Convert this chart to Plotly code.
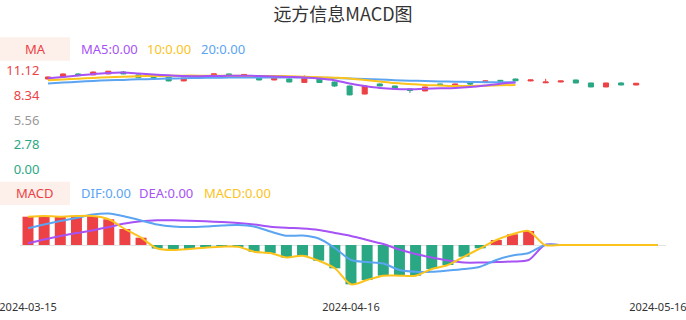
import plotly.graph_objects as go

W, H = 686, 320

dates = ["2024-03-15", "2024-03-18", "2024-03-19", "2024-03-20", "2024-03-21", "2024-03-22",
         "2024-03-25", "2024-03-26", "2024-03-27", "2024-03-28", "2024-03-29",
         "2024-04-01", "2024-04-02", "2024-04-03", "2024-04-08", "2024-04-09", "2024-04-10",
         "2024-04-11", "2024-04-12", "2024-04-15", "2024-04-16", "2024-04-17", "2024-04-18",
         "2024-04-19", "2024-04-22", "2024-04-23", "2024-04-24", "2024-04-25", "2024-04-26",
         "2024-04-29", "2024-04-30",
         "2024-05-06", "2024-05-07", "2024-05-08", "2024-05-09", "2024-05-10", "2024-05-13",
         "2024-05-14", "2024-05-15", "2024-05-16"]

open_ = [10.20, 10.43, 10.77, 10.66, 10.77, 10.99, 10.66, 10.60, 10.43, 9.98,
         10.40, 10.66, 10.77, 10.70, 10.43, 10.09, 10.20, 9.81, 10.20, 9.86,
         9.41, 8.50, 9.64, 9.41, 9.07, 8.85, 9.64, 9.41, 9.75, 9.86,
         10.05, 10.20, 9.98, 9.77, 9.86, 10.09, 9.75, 9.30, 9.75, 9.52]
close = [10.43, 10.77, 10.58, 10.99, 11.08, 10.77, 10.35, 10.37, 9.98, 10.32,
         10.45, 10.77, 10.66, 10.71, 10.09, 10.40, 9.86, 10.25, 9.80, 9.41,
         8.40, 9.41, 9.41, 9.07, 8.90, 9.30, 9.52, 9.64, 9.64, 9.98,
         9.95, 10.00, 10.09, 9.86, 9.98, 9.75, 9.30, 9.75, 9.52, 9.72]
high = [10.47, 10.80, 10.86, 11.02, 11.10, 11.08, 10.70, 10.66, 10.45, 10.35,
        10.50, 10.79, 10.80, 10.77, 10.45, 10.43, 10.30, 10.60, 10.23, 9.90,
        9.45, 9.45, 9.70, 9.45, 9.10, 9.33, 9.67, 9.67, 9.78, 10.00,
        10.08, 10.23, 10.12, 10.22, 10.00, 10.12, 9.77, 9.77, 9.85, 9.74]
low = [10.16, 10.40, 10.55, 10.63, 10.74, 10.74, 10.32, 10.33, 9.94, 9.95,
       10.36, 10.64, 10.64, 10.66, 10.05, 10.06, 9.83, 9.78, 9.77, 9.30,
       8.37, 8.47, 9.38, 9.03, 8.62, 8.82, 9.49, 9.38, 9.45, 9.83,
       9.92, 9.98, 9.95, 9.74, 9.84, 9.72, 9.28, 9.28, 9.50, 9.50]

ma5 = [10.28, 10.43, 10.60, 10.77, 10.88, 10.92, 10.82, 10.71, 10.62, 10.54,
       10.51, 10.54, 10.56, 10.56, 10.54, 10.49, 10.43, 10.37, 10.26, 10.06,
       9.69, 9.41, 9.19, 9.07, 9.04, 9.11, 9.15, 9.19, 9.30, 9.47, 9.67, 9.81]
ma10 = [10.06, 10.15, 10.24, 10.32, 10.40, 10.45, 10.51, 10.54, 10.56, 10.58,
        10.58, 10.56, 10.56, 10.56, 10.54, 10.54, 10.51, 10.45, 10.40, 10.34,
        10.26, 10.09, 9.92, 9.75, 9.64, 9.52, 9.47, 9.41, 9.41, 9.45, 9.49, 9.52]
ma20 = [9.69, 9.79, 9.89, 9.98, 10.05, 10.10, 10.16, 10.20, 10.25, 10.28,
        10.32, 10.34, 10.36, 10.37, 10.38, 10.38, 10.38, 10.37, 10.35, 10.32,
        10.26, 10.20, 10.14, 10.07, 10.01, 9.97, 9.92, 9.89, 9.86, 9.84, 9.83, 9.83]

hist = [0.283, 0.29, 0.283, 0.29, 0.29, 0.257, 0.16, 0.073, -0.035, -0.05,
        -0.04, -0.027, -0.017, -0.017, -0.067, -0.08, -0.125, -0.107, -0.157, -0.233,
        -0.393, -0.35, -0.307, -0.307, -0.307, -0.24, -0.2, -0.117, -0.033, 0.05,
        0.107, 0.14, 0, 0, 0, 0, 0, 0, 0, 0]
dif = [0.167, 0.205, 0.24, 0.27, 0.305, 0.315, 0.285, 0.245, 0.205, 0.185,
       0.18, 0.185, 0.195, 0.20, 0.185, 0.135, 0.093, 0.095, 0.065, -0.03,
       -0.15, -0.17, -0.185, -0.25, -0.267, -0.267, -0.255, -0.24, -0.217, -0.15,
       -0.105, -0.08, 0, 0, 0, 0, 0, 0, 0, 0]
dea = [0.017, 0.055, 0.09, 0.12, 0.145, 0.18, 0.215, 0.237, 0.247, 0.247,
       0.243, 0.237, 0.23, 0.22, 0.205, 0.183, 0.172, 0.165, 0.15, 0.12,
       0.09, 0.05, 0.01, -0.045, -0.09, -0.125, -0.155, -0.175, -0.175, -0.17,
       -0.165, -0.15, 0, 0, 0, 0, 0, 0, 0, 0]

price_ticks = [0.00, 2.78, 5.56, 8.34, 11.12]
price_tick_colors = ["#2aa783", "#2aa783", "#999999", "#ec4245", "#ec4245"]
date_ticks = ["2024-03-15", "2024-04-16", "2024-05-16"]

RED = "#ec4245"
GREEN = "#2aa783"
PURPLE = "#a652f5"
YELLOW = "#fbc31c"
BLUE = "#5ba4f2"

def px_x(p):
    return p / W

def px_y(p):
    return 1 - p / H

fig = go.Figure()

fig.add_trace(go.Candlestick(
    x=dates, open=open_, high=high, low=low, close=close,
    increasing=dict(line=dict(color=RED, width=1), fillcolor=RED),
    decreasing=dict(line=dict(color=GREEN, width=1), fillcolor=GREEN),
    whiskerwidth=0, xaxis="x", yaxis="y", showlegend=False, hoverinfo="skip",
))
for vals, col in [(ma20, BLUE), (ma10, YELLOW), (ma5, PURPLE)]:
    fig.add_trace(go.Scatter(
        x=dates[:len(vals)], y=vals, mode="lines",
        line=dict(color=col, width=2, shape="spline", smoothing=0.8),
        xaxis="x", yaxis="y", showlegend=False, hoverinfo="skip",
    ))

fig.add_trace(go.Bar(
    x=dates, y=hist, width=0.68,
    marker=dict(color=[RED if v > 0 else GREEN for v in hist], line=dict(width=0)),
    xaxis="x2", yaxis="y2", showlegend=False, hoverinfo="skip",
))
for vals, col in [(dea, PURPLE), (dif, BLUE), (hist, YELLOW)]:
    fig.add_trace(go.Scatter(
        x=dates, y=vals, mode="lines",
        line=dict(color=col, width=2, shape="spline", smoothing=0.8),
        xaxis="x2", yaxis="y2", showlegend=False, hoverinfo="skip",
    ))

# panel geometry (pixels)
c_left, c_right = 40.46, 643.7
m_left, m_right = 19.93, 665.9

fig.update_layout(
    width=W, height=H,
    margin=dict(l=0, r=0, t=0, b=0, autoexpand=False),
    paper_bgcolor="white", plot_bgcolor="white",
    boxgap=0.52,
    font=dict(family="Noto Sans, Noto Sans CJK SC, sans-serif", size=13, color="#333"),
    title=dict(text="远方信息MACD图", x=0.5, xanchor="center", y=px_y(15), yanchor="middle",
               automargin=False,
               font=dict(family="Noto Sans CJK SC, Noto Sans, sans-serif", size=18, color="#333")),
    xaxis=dict(domain=[px_x(c_left), px_x(c_right)], type="category", range=[-0.5, 39.5],
               showticklabels=False, showgrid=False, zeroline=False, showline=False,
               ticks="", rangeslider=dict(visible=False), anchor="y", automargin=False),
    yaxis=dict(domain=[(H - 173.7) / H, (H - 66.6) / H], range=[-0.5, 11.6],
               tickvals=price_ticks,
               ticktext=[f"<span style='color:{c}'>{v:.2f}</span>" for v, c in zip(price_ticks, price_tick_colors)],
               showgrid=False, zeroline=False, showline=False, ticks="",
               tickfont=dict(size=13), anchor="x", automargin=False),
    xaxis2=dict(domain=[px_x(m_left), px_x(m_right)], type="category", range=[-0.5, 39.5],
                tickvals=date_ticks, ticktext=date_ticks, tickfont=dict(size=11, color="#333"),
                showgrid=False, zeroline=False, showline=False, ticks="",
                ticklabelstandoff=9, anchor="y2", automargin=False),
    yaxis2=dict(domain=[(H - 290) / H, (H - 205) / H], range=[-0.45, 0.40],
                showticklabels=False, showgrid=False, zeroline=True,
                zerolinecolor="#e3e3e3", zerolinewidth=1, showline=False, ticks="",
                anchor="x2", automargin=False),
)

# legend boxes
for top, bottom in [(37.3, 60.7), (181.7, 205)]:
    fig.add_shape(type="rect", xref="paper", yref="paper",
                  x0=0, x1=px_x(70), y0=px_y(bottom), y1=px_y(top),
                  fillcolor="#fdf0eb", line=dict(width=0), layer="below")

legend_items = [
    ("MA", 35, 48.7, RED, "center"),
    ("MA5:0.00", 79.5, 48.7, PURPLE, "left"),
    ("10:0.00", 145.5, 48.7, YELLOW, "left"),
    ("20:0.00", 200, 48.7, BLUE, "left"),
    ("MACD", 35, 193.3, RED, "center"),
    ("DIF:0.00", 79.5, 193.3, BLUE, "left"),
    ("DEA:0.00", 138.3, 193.3, PURPLE, "left"),
    ("MACD:0.00", 203.3, 193.3, YELLOW, "left"),
]
for text, x, y, col, anchor in legend_items:
    fig.add_annotation(text=text, xref="paper", yref="paper", x=px_x(x), y=px_y(y),
                       xanchor=anchor, yanchor="middle", showarrow=False,
                       font=dict(size=13, color=col), borderpad=0)

fig.write_html("out.html")
